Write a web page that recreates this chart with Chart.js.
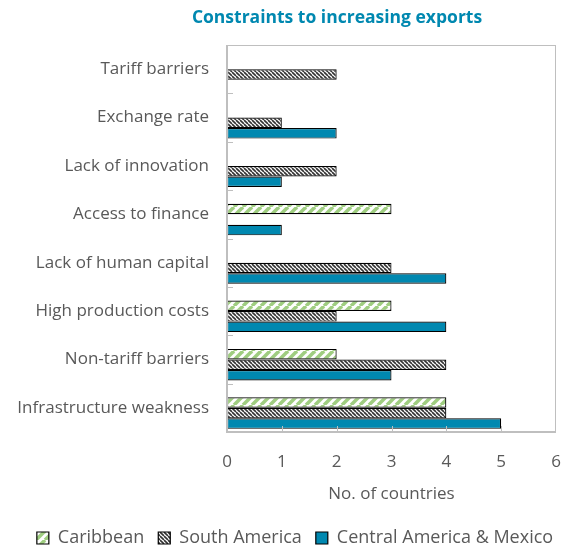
<!DOCTYPE html>
<html>
<head>
<meta charset="utf-8">
<script src="https://cdn.jsdelivr.net/npm/chart.js@4.4.1/dist/chart.umd.min.js"></script>
<style>
  html, body { margin: 0; padding: 0; background: #fff; }
</style>
</head>
<body>
<canvas id="grafico" width="569" height="550"></canvas>
<script>
// --- DATA ---
const categorias = [
  "Tariff barriers",
  "Exchange rate",
  "Lack of innovation",
  "Access to finance",
  "Lack of human capital",
  "High production costs",
  "Non-tariff barriers",
  "Infrastructure weakness"
];
const caribbean = [0, 0, 0, 3, 0, 3, 2, 4];
const southAmerica = [2, 1, 2, 0, 3, 2, 4, 4];
const centralAmerica = [0, 2, 1, 1, 4, 4, 3, 5];
const espaco = [null, null, null, null, null, null, null, null]; // empty slot above each group
const xTicks = [0, 1, 2, 3, 4, 5, 6];

const CINZA = "#595959";
const BORDA = "#bfbfbf";
const AZUL = "#0088b0";
const FONTE = "'Open Sans', 'Noto Sans', sans-serif";
const FUNDO_AREA = 432;   // bottom of the plot area
const LEGENDA_Y = 538;    // centre line of the legend
const LEGENDA_DX = 17;    // legend sits a bit right of the page centre
const PAD_LEG = 14;
const FS_LEG = 18;

// --- PATTERNS ---
function listras(cor, espacamento, largura, direcao) {
  const c = document.createElement("canvas");
  c.width = espacamento;
  c.height = espacamento;
  const g = c.getContext("2d");
  g.fillStyle = "#fff";
  g.fillRect(0, 0, espacamento, espacamento);
  g.strokeStyle = cor;
  g.lineWidth = largura;
  for (let k = -1; k <= 1; k++) {
    g.beginPath();
    if (direcao === "/") {
      g.moveTo(k * espacamento, espacamento);
      g.lineTo(k * espacamento + espacamento, 0);
    } else {
      g.moveTo(k * espacamento, 0);
      g.lineTo(k * espacamento + espacamento, espacamento);
    }
    g.stroke();
  }
  return g.createPattern(c, "repeat");
}

const ctx = document.getElementById("grafico").getContext("2d");
const padraoVerde = listras("#9fcd80", 9, 3.5, "/");
const padraoPreto = listras("#333", 4, 1.6, "\\");

// --- TITLE, FRAME AND INNER TICKS ---
const moldura = {
  id: "moldura",
  afterLayout(chart) {
    // move the legend to its place
    const lg = chart.legend;
    const dy = LEGENDA_Y - (lg.top + PAD_LEG + FS_LEG / 2);
    lg.top += dy;
    lg.bottom += dy;
    lg.left += LEGENDA_DX;
    lg.right += LEGENDA_DX;
  },
  afterDraw(chart) {
    const { ctx, chartArea: a, scales } = chart;
    ctx.save();
    // frame
    ctx.strokeStyle = BORDA;
    ctx.lineWidth = 1;
    ctx.strokeRect(a.left + 0.5, a.top + 0.5, a.right - a.left - 1, a.bottom - a.top - 1);
    ctx.lineWidth = 2;
    ctx.beginPath();
    ctx.moveTo(a.left, a.top);
    ctx.lineTo(a.left, a.bottom);
    ctx.lineTo(a.right, a.bottom);
    ctx.stroke();
    // category ticks on the y axis
    ctx.lineWidth = 1;
    const y = scales.y;
    ctx.beginPath();
    for (let i = 0; i < categorias.length - 1; i++) {
      const yy = Math.round((y.getPixelForValue(i) + y.getPixelForValue(i + 1)) / 2) + 0.5;
      ctx.moveTo(a.left, yy);
      ctx.lineTo(a.left + 6, yy);
    }
    // value ticks on the x axis
    const x = scales.x;
    xTicks.slice(1, -1).forEach((v) => {
      const xx = Math.round(x.getPixelForValue(v)) + 0.5;
      ctx.moveTo(xx, a.bottom);
      ctx.lineTo(xx, a.bottom - 6);
    });
    ctx.stroke();
    // title
    ctx.fillStyle = AZUL;
    ctx.font = "bold 17.5px " + FONTE;
    ctx.textAlign = "center";
    ctx.textBaseline = "middle";
    ctx.fillText("Constraints to increasing exports", 337, 18);
    ctx.restore();
  }
};

const borda = { borderColor: "#000", borderWidth: 1.2, borderSkipped: false };

new Chart(ctx, {
  type: "bar",
  data: {
    labels: categorias,
    datasets: [
      { label: "", data: espaco, backgroundColor: "transparent" },
      { label: "Caribbean", data: caribbean, backgroundColor: padraoVerde, ...borda },
      { label: "South America", data: southAmerica, backgroundColor: padraoPreto, ...borda },
      { label: "Central America & Mexico", data: centralAmerica, backgroundColor: AZUL, ...borda }
    ]
  },
  options: {
    indexAxis: "y",
    responsive: false,
    animation: false,
    datasets: { bar: { categoryPercentage: 0.87, barPercentage: 1.0 } },
    layout: { padding: { top: 45, right: 13, left: 0, bottom: 0 } },
    plugins: {
      title: { display: false },
      tooltip: { enabled: false },
      legend: {
        position: "bottom",
        labels: {
          filter: (item) => item.text !== "",
          color: CINZA,
          font: { family: FONTE, size: FS_LEG },
          boxWidth: 12,
          boxHeight: 12,
          padding: PAD_LEG
        }
      }
    },
    scales: {
      x: {
        min: 0,
        max: 6,
        afterBuildTicks: (s) => { s.ticks = xTicks.map((v) => ({ value: v })); },
        afterFit: (s) => {
          s.height = 550 - s.chart.legend.height - FUNDO_AREA;
          s.paddingLeft = 0;
          s.paddingRight = 0;
        },
        grid: { display: false },
        border: { display: false },
        ticks: { color: CINZA, font: { family: FONTE, size: 17 }, padding: 12 },
        title: {
          display: true,
          text: "No. of countries",
          color: CINZA,
          font: { family: FONTE, size: 17 },
          padding: { top: 0, bottom: 4 }
        }
      },
      y: {
        afterFit: (s) => { s.width = 227; },
        grid: { display: false },
        border: { display: false },
        ticks: { color: CINZA, font: { family: FONTE, size: 17 }, padding: 10 }
      }
    }
  },
  plugins: [moldura]
});
</script>
</body>
</html>
